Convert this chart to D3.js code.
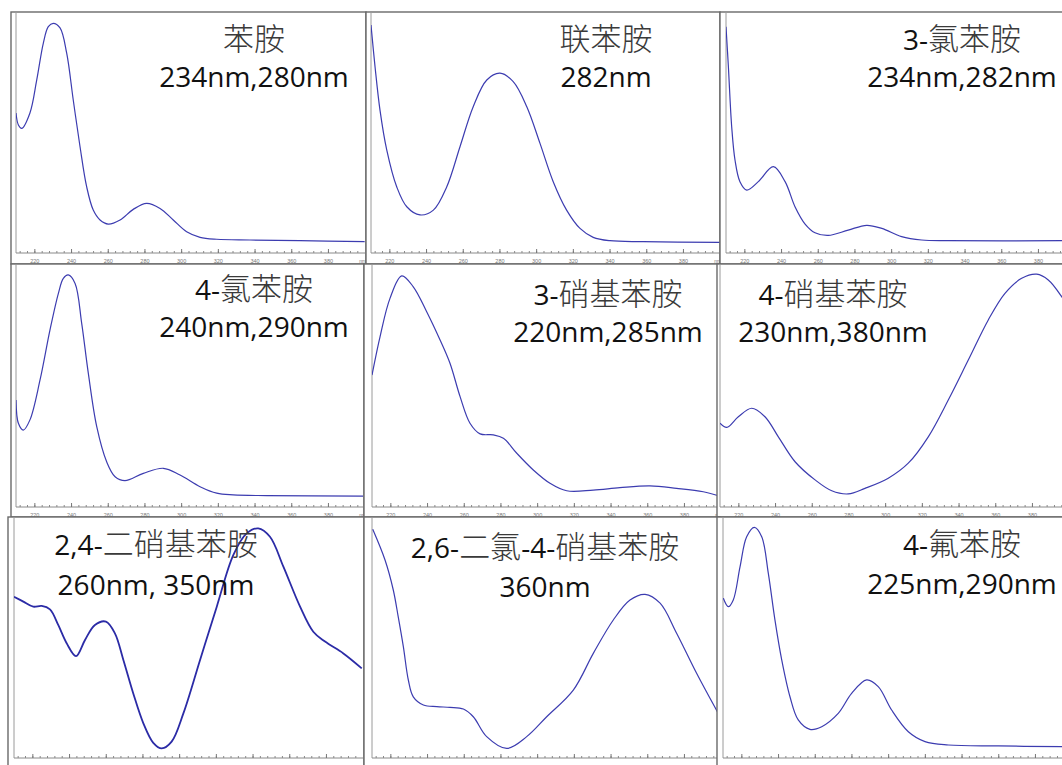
<!DOCTYPE html>
<html><head><meta charset="utf-8">
<script src="https://cdn.jsdelivr.net/npm/d3@7"></script>
<style>
html,body{margin:0;padding:0;background:#fff;}
svg{display:block;}
</style></head>
<body>
<svg id="chart" width="1062" height="765"></svg>
<script>
// ---------- data ----------
const xTicks = [220,240,260,280,300,320,340,360,380];
const names = ["苯胺","联苯胺","3-氯苯胺","4-氯苯胺","3-硝基苯胺","4-硝基苯胺","2,4-二硝基苯胺","2,6-二氯-4-硝基苯胺","4-氟苯胺"];
const peaks = ["234nm,280nm","282nm","234nm,282nm","240nm,290nm","220nm,285nm","230nm,380nm","260nm, 350nm","360nm","225nm,290nm"];

const wl_aniline = [210,211.3,213.1,217.6,221.3,224.9,227.6,230.3,234,237.6,241.2,244.9,248.5,252.1,255.8,260.3,266.7,273.9,281.2,288.5,295.7,303,310.3,319.4,337.5,364.7,400];
const abs_aniline = [0.581,0.531,0.517,0.581,0.718,0.871,0.939,0.953,0.934,0.830,0.635,0.441,0.275,0.178,0.137,0.120,0.137,0.181,0.206,0.185,0.137,0.088,0.065,0.057,0.054,0.051,0.047];

const wl_benzidine = [210,212.2,214.9,218.6,224,229.5,236.7,244,251.3,258.5,265.7,273.1,280.3,287.5,294.9,302.1,309.3,316.6,323.9,331.1,340.2,358.4,400];
const abs_benzidine = [0.946,0.773,0.593,0.427,0.275,0.192,0.158,0.178,0.275,0.441,0.607,0.718,0.746,0.711,0.607,0.455,0.296,0.178,0.102,0.065,0.051,0.047,0.044];

const wl_3cl = [210,211.3,213.1,214.9,217.6,221.3,227.6,235.8,242.2,247.6,253.1,258.5,265.7,276.6,286.7,294.9,305.7,316.6,331.1,393.1,400];
const abs_3cl = [0.939,0.773,0.524,0.386,0.296,0.261,0.296,0.358,0.296,0.192,0.120,0.084,0.073,0.095,0.115,0.102,0.068,0.054,0.051,0.051,0.051];

const wl_4cl = [210,211.3,214,217.6,223.1,228.5,233.1,235.8,238.5,242.2,245.8,249.4,254,259.4,264,269.4,279.4,290.3,299.4,310.3,319.4,328.4,346.6,399.1];
const abs_4cl = [0.442,0.346,0.318,0.360,0.525,0.731,0.883,0.945,0.959,0.924,0.759,0.553,0.332,0.187,0.125,0.109,0.139,0.160,0.132,0.084,0.057,0.050,0.047,0.045];

const wl_3no2 = [210,214.4,219.8,226.2,232.5,239.8,247.1,252.5,258,263.4,268.9,276.1,281.6,288.9,297.9,307,316.1,330.6,345.1,361.5,376,390.5,399.6];
const abs_3no2 = [0.545,0.704,0.862,0.955,0.910,0.807,0.690,0.594,0.456,0.346,0.302,0.298,0.284,0.222,0.153,0.098,0.067,0.070,0.080,0.087,0.077,0.063,0.045];

const wl_4no2 = [210,213.7,220,227.3,234.5,241.8,250.9,261.8,270.9,279.9,289,301.7,312.6,323.5,334.4,345.3,356.2,365.3,374.4,382.6,388.9,396.2,400];
const abs_4no2 = [0.346,0.329,0.373,0.408,0.373,0.290,0.187,0.112,0.067,0.054,0.077,0.119,0.181,0.290,0.442,0.607,0.773,0.883,0.945,0.962,0.938,0.869,0.820];

const wl_24dn = [210,215.1,220.5,225.1,229.6,234.1,238.7,243.8,248.7,254.1,260.1,265,269.6,275,280.5,285.9,290.5,295.9,302.3,311.4,320.5,329.5,336.8,343.1,349.5,356.8,365.9,373.1,379.5,389.5,399.5];
const abs_24dn = [0.669,0.649,0.628,0.631,0.617,0.552,0.476,0.423,0.490,0.552,0.566,0.517,0.407,0.268,0.144,0.063,0.040,0.068,0.185,0.407,0.628,0.842,0.932,0.953,0.918,0.794,0.628,0.524,0.483,0.434,0.372];

const wl_26dc = [210.4,217.1,221.6,224.3,227.1,229.8,232.5,238,245.3,252.5,259.8,265.2,272.5,283.4,294.3,305.2,319.7,330.6,341.5,350.6,358.8,367,376,386.9,398.7];
const abs_26dc = [0.953,0.825,0.700,0.588,0.463,0.325,0.255,0.221,0.214,0.211,0.204,0.172,0.089,0.040,0.089,0.172,0.283,0.436,0.575,0.658,0.682,0.645,0.520,0.353,0.186];

const wl_4f = [210.2,212.9,215.6,219.3,222.9,227.1,231.1,234.7,238.3,242,246.5,251,257.4,263.8,272.8,280.1,288.3,294.6,301.9,311,320.1,332.8,360,394.7,400];
const abs_4f = [0.663,0.628,0.656,0.794,0.918,0.957,0.918,0.766,0.573,0.407,0.254,0.158,0.119,0.130,0.185,0.268,0.324,0.296,0.199,0.109,0.068,0.054,0.050,0.047,0.047];

const spectraWl = [wl_aniline, wl_benzidine, wl_3cl, wl_4cl, wl_3no2, wl_4no2, wl_24dn, wl_26dc, wl_4f];
const spectraAbs = [abs_aniline, abs_benzidine, abs_3cl, abs_4cl, abs_3no2, abs_4no2, abs_24dn, abs_26dc, abs_4f];

// ---------- layout (screen geometry of each captured panel) ----------
const W = 1062, H = 765;
const layout = [
 {ox:11, oy:12, ox2:366, oy2:264, left:16, top:12, bottom:253, right:365, tx:254, ty1:50, ty2:87},
 {ox:366, oy:12, ox2:720, oy2:264, left:371, top:12, bottom:253, right:720, tx:606, ty1:50, ty2:87},
 {ox:720, oy:12, ox2:1080, oy2:264, left:726, top:12, bottom:253, right:1075, tx:962, ty1:50, ty2:87},
 {ox:11, oy:264, ox2:364, oy2:517, left:16, top:265, bottom:507, right:363, tx:254, ty1:300, ty2:337},
 {ox:364, oy:264, ox2:720, oy2:517, left:372, top:265, bottom:507, right:720, tx:608, ty1:305, ty2:342},
 {ox:717, oy:264, ox2:1080, oy2:517, left:720, top:265, bottom:507, right:1075, tx:833, ty1:305, ty2:342},
 {ox:8, oy:517, ox2:364, oy2:780, left:14, top:517, bottom:758, right:363, tx:156, ty1:555, ty2:595},
 {ox:364, oy:517, ox2:720, oy2:780, left:372, top:518, bottom:758, right:719, tx:545, ty1:558, ty2:597},
 {ox:717, oy:517, ox2:1080, oy2:780, left:723, top:517, bottom:758, right:1075, tx:962, ty1:555, ty2:594}
];
const PX_PER_NM = 1.835;

const svg = d3.select("#chart");
svg.append("rect").attr("width",W).attr("height",H).attr("fill","#fff");

const defs = svg.append("defs");

function runs(str){ return str.match(/[\u4e00-\u9fff]+|[^\u4e00-\u9fff]+/g); }

layout.forEach((L, i) => {
  const g = svg.append("g");
  // outer window frame
  g.append("rect").attr("x",L.ox).attr("y",L.oy)
    .attr("width",L.ox2-L.ox).attr("height",L.oy2-L.oy)
    .attr("fill","#fff").attr("stroke","#6a6a6a").attr("stroke-width",1.4);

  const x = d3.scaleLinear().domain([210,400]).range([L.left, L.left + 190*PX_PER_NM]);
  const y = d3.scaleLinear().domain([0,1]).range([L.bottom, L.top]);

  // plot area left edge
  g.append("line").attr("x1",L.left).attr("x2",L.left).attr("y1",L.top).attr("y2",L.bottom)
    .attr("stroke","#9a9a9a").attr("stroke-width",1);

  const labelsFit = L.bottom + 12 <= H;   // tick labels of the bottom row fall outside the picture

  // minor ticks
  const minor = g.append("g").attr("transform",`translate(0,${L.bottom})`)
    .call(d3.axisBottom(x).tickValues(d3.range(212,400,4)).tickSize(-2).tickFormat(""));
  minor.select(".domain").remove();
  minor.selectAll("line").attr("stroke","#888");
  // major ticks + labels
  const visibleTicks = xTicks.filter(t => x(t) + 6 <= W);
  const ax = g.append("g").attr("transform",`translate(0,${L.bottom})`)
    .call(d3.axisBottom(x).tickValues(visibleTicks).tickSize(-4).tickPadding(6)
      .tickFormat(labelsFit ? d3.format("d") : ""));
  ax.select(".domain").attr("stroke","#8a8a8a").attr("d",`M${L.left},0H${L.right}`);
  ax.selectAll("line").attr("stroke","#777");
  ax.selectAll("text").attr("fill","#777").attr("font-size","5.5px").attr("font-family","Liberation Sans, Arial, sans-serif");
  if (labelsFit && x(399) + 4 <= W) {
    g.append("text").attr("x", x(399)).attr("y", L.bottom+10).attr("text-anchor","middle")
      .attr("font-size","5px").attr("fill","#777").attr("font-family","Liberation Sans, Arial, sans-serif").text("nm");
  }

  // clip
  const cid = "clip"+i;
  defs.append("clipPath").attr("id",cid).append("rect")
    .attr("x",L.left).attr("y",L.top-2).attr("width",L.right-L.left).attr("height",L.bottom-L.top+2);

  const pts = spectraWl[i].map((w,k) => [w, spectraAbs[i][k]]);
  const line = d3.line().x(d => x(d[0])).y(d => y(d[1])).curve(d3.curveCatmullRom.alpha(0.5));
  g.append("path").attr("d", line(pts)).attr("clip-path",`url(#${cid})`)
    .attr("fill","none")
    .attr("stroke", i===6 ? "#2b2ba6" : "#3c3cb0")
    .attr("stroke-width", i===6 ? 1.8 : 1.2)
    .attr("stroke-linejoin","round");

  // titles
  const t1 = g.append("text").attr("x",L.tx).attr("y",L.ty1).attr("text-anchor","middle");
  runs(names[i]).forEach(r => {
    const cjk = /[\u4e00-\u9fff]/.test(r);
    t1.append("tspan").text(r)
      .attr("font-family", cjk ? "'Noto Sans CJK SC', sans-serif" : "'Open Sans', sans-serif")
      .attr("font-size", cjk ? "31px" : "28px")
      .attr("font-weight", cjk ? 300 : 400)
      .attr("fill", cjk ? "#3a3a3a" : "#111");
  });
  g.append("text").attr("x",L.tx).attr("y",L.ty2).attr("text-anchor","middle")
    .attr("font-family","'Open Sans', sans-serif").attr("font-size","28px").attr("fill","#111")
    .text(peaks[i]);
});
</script>
</body></html>
